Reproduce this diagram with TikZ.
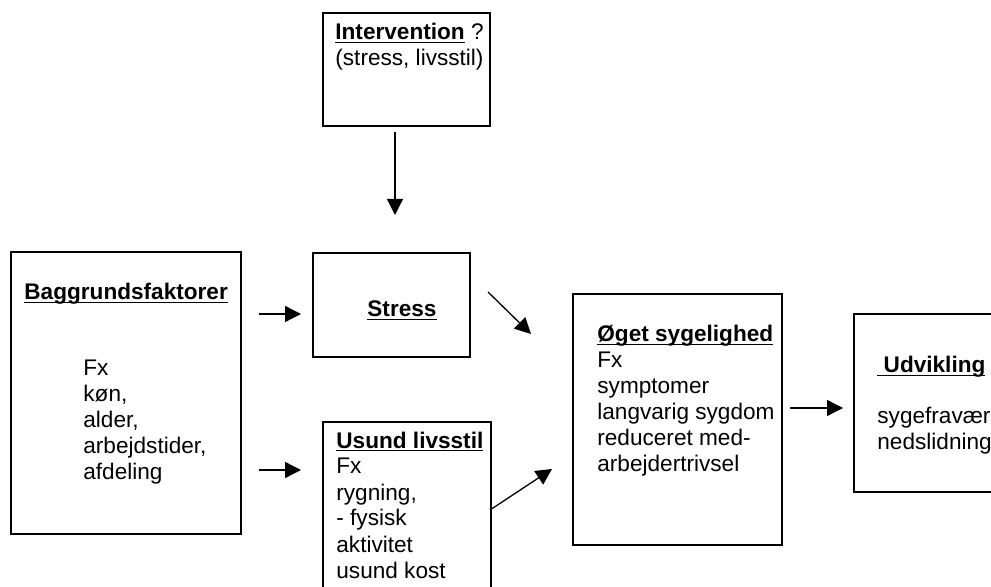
\documentclass[tikz,border=0pt]{standalone}
\usepackage{fontspec}
\setmainfont{Liberation Sans}
\usetikzlibrary{arrows.meta,positioning}
\newcommand{\hdr}[1]{\textbf{\setbox0\hbox{#1}\rlap{\rule[-1.7pt]{\wd0}{0.9pt}}\box0}}
\tikzset{
  box/.style={rectangle,draw=black,line width=0.85pt,anchor=north west,inner sep=0pt},
  txt/.style={anchor=base west,inner sep=0pt,align=left,
    font=\fontsize{11.3}{13}\selectfont},
  arr/.style={-{Triangle[length=8pt,width=8pt]},line width=0.65pt},
}
\begin{document}
\begin{tikzpicture}[x=0.5pt,y=-0.5pt]
  \clip (0,0) rectangle (991,587);
  \useasboundingbox (0,0) rectangle (991,587);
  % boxes
  \node[box,minimum width=83.5pt,minimum height=56.5pt] (interv) at (322,12) {};
  \node[box,minimum width=115pt,minimum height=141pt] (bagg) at (10,251) {};
  \node[box,minimum width=78.5pt,minimum height=52pt] (stress) at (312,252) {};
  \node[box,minimum width=84pt,minimum height=90pt] (usund) at (322,421) {};
  \node[box,minimum width=104.5pt,minimum height=125.5pt] (oget) at (572,293) {};
  \node[box,minimum width=75pt,minimum height=89pt] (udv) at (853,313) {};
  % texts (base = last line)
  \node[txt] (intervtxt) at (335,66) {\hdr{Intervention} ?\\(stress, livsstil)};
  \node[txt] (baggtitle) at (24,300) {\hdr{Baggrundsfaktorer}};
  \node[txt] (baggtxt) at (83,480) {Fx\\køn,\\alder,\\arbejdstider,\\afdeling};
  \node[txt] (stresstxt) at (367,317) {\hdr{Stress}};
  \node[txt] (usundtxt) at (336,578) {\hdr{Usund livsstil}\\Fx\\rygning,\\- fysisk\\aktivitet\\usund kost};
  \node[txt] (ogettxt) at (597,472) {\hdr{Øget sygelighed}\\Fx\\symptomer\\langvarig sygdom\\reduceret med-\\arbejdertrivsel};
  \node[txt] (udvtitle) at (877,373) {\hdr{\ Udvikling}};
  \node[txt] (udvtxt) at (877,450) {sygefravær\\nedslidning};
  % arrow ends
  \coordinate (a1) at (395,132); \coordinate (b1) at (395,215);
  \coordinate (a2) at (259,314); \coordinate (b2) at (301,314);
  \coordinate (a3) at (259,470); \coordinate (b3) at (301,470);
  \coordinate (a4) at (488,292); \coordinate (b4) at (531,334);
  \coordinate (a5) at (490,510); \coordinate (b5) at (552,469);
  \coordinate (a6) at (790,408); \coordinate (b6) at (843,408);
  \foreach \i in {1,...,6}
    \draw[arr] (a\i) -- (b\i);
\end{tikzpicture}
\end{document}
